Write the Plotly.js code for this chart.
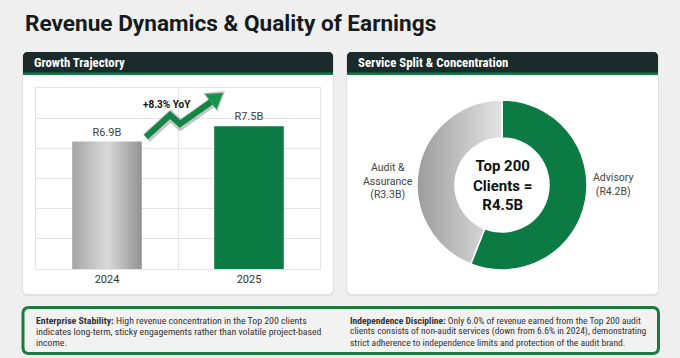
<!DOCTYPE html>
<html>
<head>
<meta charset="utf-8">
<script src="https://cdn.plot.ly/plotly-3.0.1.min.js"></script>
<style>
  html, body { margin: 0; padding: 0; background: #efefef; }
  #chart { width: 680px; height: 358px; }
</style>
</head>
<body>
<div id="chart"></div>
<script>
// ---------- data ----------
const years = ['2024', '2025'];
const revenue = [6.9, 7.5];          // R billions
const yoyGrowth = 8.3;               // % as labelled
const serviceLabels = ['Advisory', 'Audit &<br>Assurance'];
const serviceValues = [4.2, 3.3];    // R billions
const top200Revenue = 4.5;           // R billions
const chartTitle = 'Revenue Dynamics & Quality of Earnings';
const panelTitles = ['Growth Trajectory', 'Service Split & Concentration'];
const noteLeft = [
  '<b>Enterprise Stability:</b> High revenue concentration in the Top 200 clients',
  'indicates long-term, sticky engagements rather than volatile project-based',
  'income.'
];
const noteRight = [
  '<b>Independence Discipline:</b> Only 6.0% of revenue earned from the Top 200 audit',
  'clients consists of non-audit services (down from 6.6% in 2024), demonstrating',
  'strict adherence to independence limits and protection of the audit brand.'
];

// ---------- helpers ----------
const W = 680, H = 358;
const X = px => px / W;
const Y = py => 1 - py / H;
const GREEN = '#0b7a43';
const DARK = '#1b2a2a';
const NARROW = '"Liberation Sans Narrow", "Roboto Condensed", Roboto, sans-serif';
const ROBOTO = 'Roboto, "Noto Sans", sans-serif';

function roundRect(x0, y0, x1, y1, r, topOnly) {
  const rb = topOnly ? 0 : r;
  const p = [];
  p.push(`M${X(x0 + r)},${Y(y0)}`);
  p.push(`L${X(x1 - r)},${Y(y0)}`);
  p.push(`Q${X(x1)},${Y(y0)} ${X(x1)},${Y(y0 + r)}`);
  p.push(`L${X(x1)},${Y(y1 - rb)}`);
  if (rb) p.push(`Q${X(x1)},${Y(y1)} ${X(x1 - rb)},${Y(y1)}`);
  p.push(`L${X(x0 + rb)},${Y(y1)}`);
  if (rb) p.push(`Q${X(x0)},${Y(y1)} ${X(x0)},${Y(y1 - rb)}`);
  p.push(`L${X(x0)},${Y(y0 + r)}`);
  p.push(`Q${X(x0)},${Y(y0)} ${X(x0 + r)},${Y(y0)}`);
  p.push('Z');
  return p.join(' ');
}
function poly(pts, close) {
  return pts.map((q, i) => (i ? 'L' : 'M') + X(q[0]) + ',' + Y(q[1])).join(' ') + (close ? ' Z' : '');
}

const shapes = [];
function card(x0, x1) {
  shapes.push({type: 'path', xref: 'paper', yref: 'paper', layer: 'below',
    path: roundRect(x0 - 1, 52, x1 + 1, 296, 6), fillcolor: 'rgba(0,0,0,0.06)', line: {width: 0}});
  shapes.push({type: 'path', xref: 'paper', yref: 'paper', layer: 'below',
    path: roundRect(x0, 52, x1, 294, 5), fillcolor: '#ffffff', line: {width: 0}});
  shapes.push({type: 'path', xref: 'paper', yref: 'paper', layer: 'below',
    path: roundRect(x0, 52, x1, 75, 5, true), fillcolor: GREEN, line: {width: 0}});
  shapes.push({type: 'path', xref: 'paper', yref: 'paper', layer: 'below',
    path: roundRect(x0, 52, x1, 72.5, 5, true), fillcolor: DARK, line: {width: 0}});
}
card(23, 333);
card(347, 658);
// bottom note box
shapes.push({type: 'path', xref: 'paper', yref: 'paper', layer: 'below',
  path: roundRect(23, 307.5, 658.5, 353.5, 6), fillcolor: '#f2f2f2', line: {color: '#1d7a3f', width: 3}});

// decorative growth arrow
const arrowPts = [[146, 137], [170, 115], [180, 124], [211, 102]];
const head = [[223, 93], [216.5, 109.5], [205, 94]];
shapes.push({type: 'path', xref: 'paper', yref: 'paper', layer: 'above',
  path: poly(arrowPts.map(q => [q[0] + 0.5, q[1] + 1])), line: {color: 'rgba(90,90,90,0.35)', width: 10}});
shapes.push({type: 'path', xref: 'paper', yref: 'paper', layer: 'above',
  path: poly([[225, 91], [217.5, 111.5], [203, 93]], true), fillcolor: 'rgba(90,90,90,0.35)', line: {width: 0}});
shapes.push({type: 'path', xref: 'paper', yref: 'paper', layer: 'above',
  path: poly(arrowPts), line: {color: '#138546', width: 6}});
shapes.push({type: 'path', xref: 'paper', yref: 'paper', layer: 'above',
  path: poly(head, true), fillcolor: '#16944d', line: {width: 0}});

// ---------- annotations ----------
const annotations = [];
function txt(text, x, y, opts) {
  annotations.push(Object.assign({
    text: text, xref: 'paper', yref: 'paper', x: X(x), y: Y(y),
    xanchor: 'left', yanchor: 'middle', showarrow: false,
    font: {family: ROBOTO, size: 11, color: '#222'}
  }, opts || {}));
}
txt('<b>' + chartTitle + '</b>', 23, 23, {font: {family: ROBOTO, size: 22.6, color: '#151b1b'}});
txt('<b>' + panelTitles[0] + '</b>', 32, 62.5, {font: {family: NARROW, size: 12.8, color: '#ffffff'}});
txt('<b>' + panelTitles[1] + '</b>', 356, 62.5, {font: {family: NARROW, size: 12.8, color: '#ffffff'}});
txt('<b>+' + yoyGrowth.toFixed(1) + '% YoY</b>', 167, 104, {xanchor: 'center', font: {family: ROBOTO, size: 10, color: '#111'}});
// donut centre
txt('<b>Top 200<br>Clients =<br>R' + top200Revenue.toFixed(1) + 'B</b>', 502, 185,
  {xanchor: 'center', align: 'center', font: {family: ROBOTO, size: 15, color: '#111'}});
// donut outside labels (text from the data arrays)
const sliceLabelPos = [[613, 184], [388, 181]];
serviceLabels.forEach((lab, i) => txt(lab + '<br>(R' + serviceValues[i].toFixed(1) + 'B)',
  sliceLabelPos[i][0], sliceLabelPos[i][1],
  {xanchor: 'center', align: 'center', font: {family: ROBOTO, size: 10.5, color: '#444'}}));
noteLeft.forEach((t, i) => txt(t, 34, 320 + i * 11, {font: {family: NARROW, size: 9.8, color: '#333'}}));
noteRight.forEach((t, i) => txt(t, 348, 320 + i * 11, {font: {family: NARROW, size: 9.5, color: '#333'}}));

// ---------- traces ----------
const barTrace = {
  type: 'bar', x: years, y: revenue, width: 0.49,
  marker: {color: ['#bdbdbd', GREEN]},
  text: revenue.map(v => 'R' + v.toFixed(1) + 'B'),
  textposition: 'outside', cliponaxis: false,
  textfont: {family: ROBOTO, size: 11, color: '#444'},
  hoverinfo: 'none', xaxis: 'x', yaxis: 'y'
};
const pieTrace = {
  type: 'pie', labels: serviceLabels, values: serviceValues,
  hole: 0.553, sort: false, direction: 'clockwise', rotation: 0,
  marker: {colors: [GREEN, '#c4c4c4'], line: {color: '#ffffff', width: 1.5}},
  textinfo: 'none',
  showlegend: false, hoverinfo: 'none',
  domain: {x: [X(417), X(587)], y: [Y(270), Y(100)]}
};

const yMin = 1.9, yMax = 9.0;
const layout = {
  width: W, height: H,
  margin: {l: 0, r: 0, t: 0, b: 0},
  paper_bgcolor: '#efefef', plot_bgcolor: '#ffffff',
  showlegend: false,
  xaxis: {domain: [X(36), X(320)], type: 'category', range: [-0.5, 1.5],
    tickson: 'boundaries', showgrid: true, gridcolor: '#e4e4e4', gridwidth: 1,
    showline: true, mirror: true, linecolor: '#e4e4e4', ticks: '',
    tickfont: {family: ROBOTO, size: 11, color: '#333'}, fixedrange: true},
  yaxis: {domain: [Y(269), Y(88)], range: [yMin, yMax], tick0: yMin, dtick: (yMax - yMin) / 6,
    showticklabels: false, showgrid: true, gridcolor: '#e4e4e4', gridwidth: 1,
    showline: true, mirror: true, linecolor: '#e4e4e4', zeroline: false, ticks: '', fixedrange: true},
  shapes: shapes, annotations: annotations
};

const gd = document.getElementById('chart');
Plotly.newPlot(gd, [barTrace, pieTrace], layout, {displayModeBar: false, staticPlot: true}).then(() => {
  const svgNS = 'http://www.w3.org/2000/svg';
  const defs = gd.querySelector('.main-svg defs');
  function grad(id, stops) {
    const g = document.createElementNS(svgNS, 'linearGradient');
    g.setAttribute('id', id);
    g.setAttribute('x1', '0'); g.setAttribute('y1', '0');
    g.setAttribute('x2', '1'); g.setAttribute('y2', '0');
    stops.forEach(s => {
      const st = document.createElementNS(svgNS, 'stop');
      st.setAttribute('offset', s[0]);
      st.setAttribute('stop-color', s[1]);
      g.appendChild(st);
    });
    defs.appendChild(g);
  }
  grad('barGrey', [['0', '#a4a4a4'], ['0.5', '#dadada'], ['1', '#929292']]);
  grad('pieGrey', [['0', '#9c9c9c'], ['1', '#e4e4e4']]);
  const bars = gd.querySelectorAll('.barlayer .point path');
  if (bars[0]) bars[0].style.fill = 'url(#barGrey)';
  const slices = gd.querySelectorAll('.pielayer .slice path.surface');
  if (slices[1]) slices[1].style.fill = 'url(#pieGrey)';
});
</script>
</body>
</html>
